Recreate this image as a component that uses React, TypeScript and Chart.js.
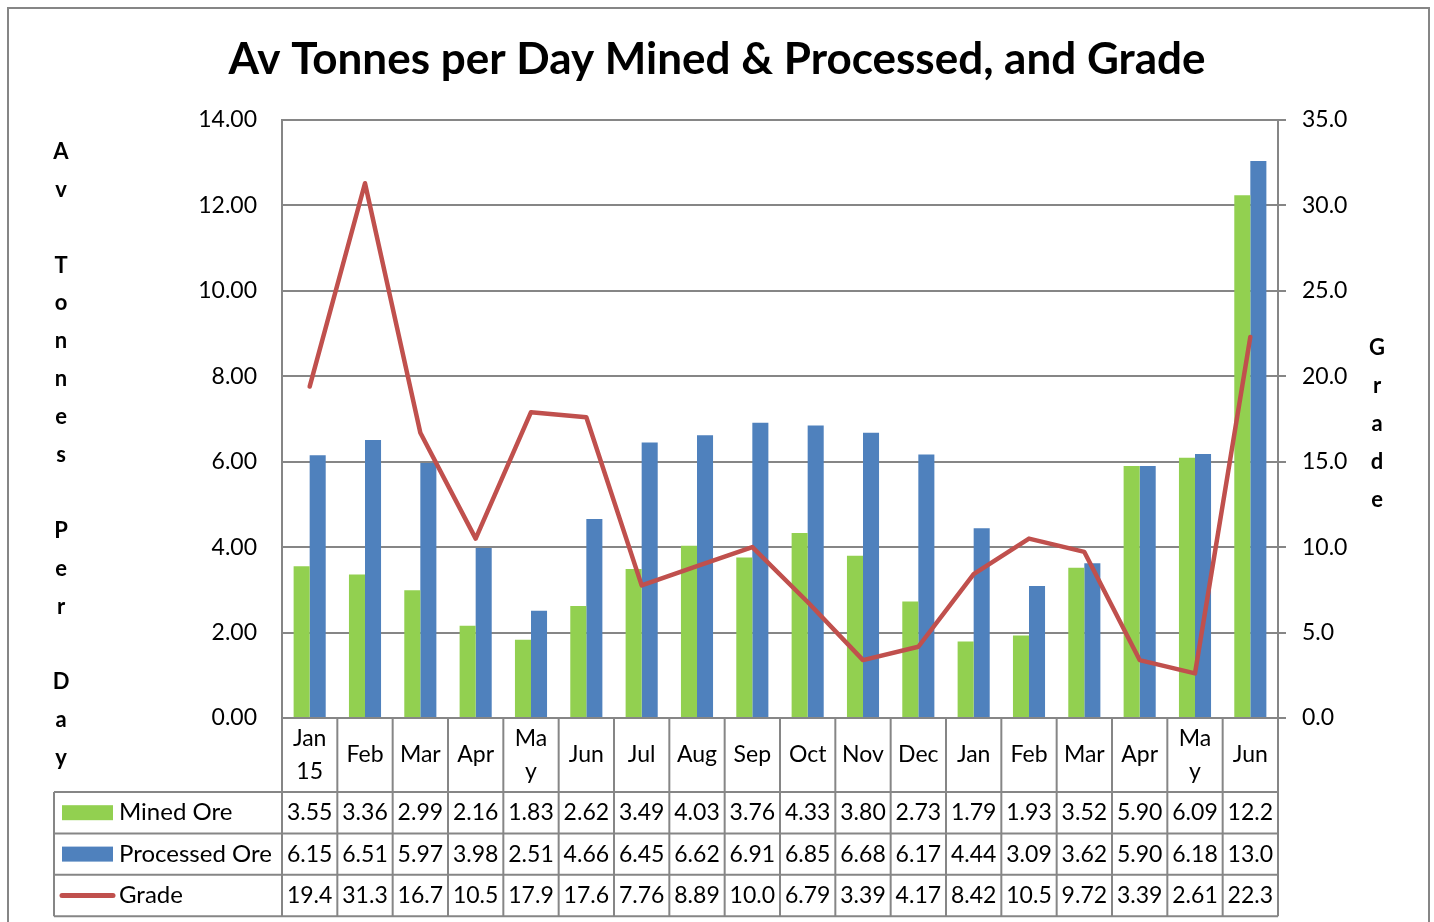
import React, { useEffect, useRef } from 'react';
import { Chart, registerables } from 'chart.js';

Chart.register(...registerables);

const FONT = 'Lato';
const titleText = 'Av Tonnes per Day Mined & Processed, and Grade';
const leftAxisTitle = 'Av Tonnes Per Day';
const rightAxisTitle = 'Grade';

const categories: (string | string[])[] = [
  ['Jan', '15'], 'Feb', 'Mar', 'Apr', ['Ma', 'y'], 'Jun', 'Jul', 'Aug', 'Sep',
  'Oct', 'Nov', 'Dec', 'Jan', 'Feb', 'Mar', 'Apr', ['Ma', 'y'], 'Jun',
];

const seriesNames = ['Mined Ore', 'Processed Ore', 'Grade'];

const minedOre = [3.55, 3.36, 2.99, 2.16, 1.83, 2.62, 3.49, 4.03, 3.76, 4.33, 3.80, 2.73, 1.79, 1.93, 3.52, 5.90, 6.09, 12.24];
const processedOre = [6.15, 6.51, 5.97, 3.98, 2.51, 4.66, 6.45, 6.62, 6.91, 6.85, 6.68, 6.17, 4.44, 3.09, 3.62, 5.90, 6.18, 13.04];
const grade = [19.4, 31.3, 16.7, 10.5, 17.9, 17.6, 7.76, 8.89, 10.0, 6.79, 3.39, 4.17, 8.42, 10.5, 9.72, 3.39, 2.61, 22.3];

const leftAxisMin = 0;
const leftAxisMax = 14;
const leftAxisStep = 2;
const rightAxisMin = 0;
const rightAxisMax = 35;
const rightAxisStep = 5;

const GREEN = '#92D050';
const BLUE = '#4F81BD';
const RED = '#C0504D';
const GRID = '#868686';

const extrasPlugin = {
  id: 'excelExtras',
  afterDraw(chart: any) {
    const { ctx, chartArea } = chart;
    const xs = chart.scales.x;
    const L = chartArea.left;
    const R = chartArea.right;
    const B = chartArea.bottom;
    const n = categories.length;
    ctx.save();

    // outer chart border
    ctx.strokeStyle = GRID;
    ctx.lineWidth = 2;
    ctx.strokeRect(8, 8, 1421, 940);

    // title
    ctx.fillStyle = '#000';
    ctx.font = `bold 44px ${FONT}`;
    ctx.textAlign = 'center';
    ctx.textBaseline = 'middle';
    ctx.fillText(titleText, 717, 60);

    // vertical axis titles (stacked letters)
    ctx.font = `bold 22px ${FONT}`;
    const step = 37.9;
    const lchars = leftAxisTitle.split('');
    const lTop = 455 - ((lchars.length - 1) * step) / 2;
    lchars.forEach((c, i) => ctx.fillText(c, 61, lTop + i * step));
    const rchars = rightAxisTitle.split('');
    const rTop = 424 - ((rchars.length - 1) * step) / 2;
    rchars.forEach((c, i) => ctx.fillText(c, 1377, rTop + i * step));

    // data table
    const headerBottom = B + 74;
    const rowH = 41.4;
    const tableBottom = headerBottom + rowH * 3;
    const legendLeft = 54;
    const bounds: number[] = [];
    for (let i = 0; i <= n; i++) {
      if (i === 0) bounds.push(L);
      else if (i === n) bounds.push(R);
      else bounds.push((xs.getPixelForValue(i - 1) + xs.getPixelForValue(i)) / 2);
    }
    ctx.strokeStyle = GRID;
    ctx.lineWidth = 2;
    ctx.beginPath();
    bounds.forEach((bx) => {
      ctx.moveTo(bx, B);
      ctx.lineTo(bx, tableBottom);
    });
    for (let r = 0; r <= 3; r++) {
      const y = headerBottom + r * rowH;
      ctx.moveTo(legendLeft, y);
      ctx.lineTo(R, y);
    }
    ctx.moveTo(legendLeft, headerBottom);
    ctx.lineTo(legendLeft, tableBottom);
    ctx.stroke();

    const rows = [minedOre, processedOre, grade];
    ctx.font = `23px ${FONT}`;
    ctx.fillStyle = '#000';
    ctx.textAlign = 'center';
    ctx.textBaseline = 'middle';
    rows.forEach((vals, r) => {
      const cy = headerBottom + rowH * (r + 0.5);
      vals.forEach((v, i) => {
        ctx.fillText(v.toPrecision(3), (bounds[i] + bounds[i + 1]) / 2, cy);
      });
    });

    // legend keys
    ctx.textAlign = 'left';
    ctx.font = `24px ${FONT}`;
    rows.forEach((_, r) => {
      const cy = headerBottom + rowH * (r + 0.5);
      if (r < 2) {
        ctx.fillStyle = r === 0 ? GREEN : BLUE;
        ctx.fillRect(62, cy - 7.5, 51, 15);
      } else {
        ctx.strokeStyle = RED;
        ctx.lineWidth = 5;
        ctx.lineCap = 'round';
        ctx.beginPath();
        ctx.moveTo(62, cy);
        ctx.lineTo(113, cy);
        ctx.stroke();
      }
      ctx.fillStyle = '#000';
      ctx.fillText(seriesNames[r], 119, cy);
    });

    ctx.restore();
  },
};

export default function App() {
  const canvasRef = useRef<HTMLCanvasElement | null>(null);

  useEffect(() => {
    if (!canvasRef.current) return;
    const chart = new Chart(canvasRef.current, {
      type: 'bar',
      data: {
        labels: categories as any,
        datasets: [
          {
            type: 'bar',
            label: seriesNames[0],
            data: minedOre,
            backgroundColor: GREEN,
            yAxisID: 'y',
            categoryPercentage: 0.58,
            barPercentage: 1,
            order: 1,
          },
          {
            type: 'bar',
            label: seriesNames[1],
            data: processedOre,
            backgroundColor: BLUE,
            yAxisID: 'y',
            categoryPercentage: 0.58,
            barPercentage: 1,
            order: 1,
          },
          {
            type: 'line',
            label: seriesNames[2],
            data: grade,
            borderColor: RED,
            backgroundColor: RED,
            borderWidth: 4.5,
            pointRadius: 0,
            tension: 0,
            borderJoinStyle: 'round',
            borderCapStyle: 'round',
            yAxisID: 'y1',
            order: -1,
          } as any,
        ],
      },
      options: {
        animation: false,
        responsive: true,
        maintainAspectRatio: false,
        devicePixelRatio: 1,
        layout: { padding: { top: 120, left: 0, right: 0, bottom: 0 } },
        plugins: {
          legend: { display: false },
          title: { display: false },
          tooltip: { enabled: false },
        },
        scales: {
          x: {
            type: 'category',
            offset: true,
            grid: { display: false, drawTicks: false },
            border: { display: false },
            ticks: {
              autoSkip: false,
              maxRotation: 0,
              minRotation: 0,
              padding: 20.5,
              crossAlign: 'center',
              color: '#000',
              font: { family: FONT, size: 23, lineHeight: 1.43 },
            },
            afterFit: (s: any) => {
              s.height = 204;
            },
          },
          y: {
            position: 'left',
            min: leftAxisMin,
            max: leftAxisMax,
            ticks: {
              stepSize: leftAxisStep,
              padding: 25,
              color: '#000',
              font: { family: FONT, size: 23 },
              callback: (v: any) => Number(v).toFixed(2),
            },
            grid: { color: GRID, lineWidth: 2, drawTicks: false },
            border: { display: true, color: GRID, width: 2 },
            afterFit: (s: any) => {
              s.width = 282;
            },
          },
          y1: {
            position: 'right',
            min: rightAxisMin,
            max: rightAxisMax,
            ticks: {
              stepSize: rightAxisStep,
              padding: 16,
              color: '#000',
              font: { family: FONT, size: 23 },
              callback: (v: any) => Number(v).toFixed(1),
            },
            grid: { drawOnChartArea: false, drawTicks: true, tickLength: 8, color: GRID, lineWidth: 2 },
            border: { display: true, color: GRID, width: 2 },
            afterFit: (s: any) => {
              s.width = 156;
            },
          },
        },
      } as any,
      plugins: [extrasPlugin],
    });
    return () => chart.destroy();
  }, []);

  return (
    <div style={{ position: 'absolute', left: 0, top: 0, width: 1434, height: 922, background: '#fff' }}>
      <canvas ref={canvasRef} />
    </div>
  );
}
